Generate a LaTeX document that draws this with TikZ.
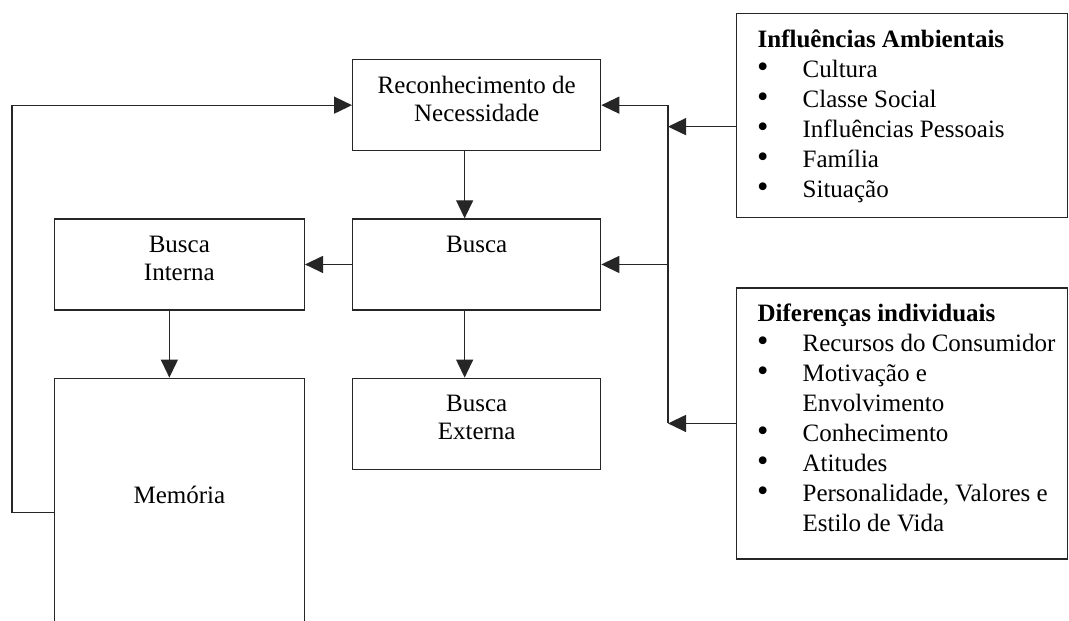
\documentclass[tikz,border=0pt]{standalone}
\usepackage{fontspec}
\setmainfont{Liberation Serif}
\usetikzlibrary{arrows.meta, positioning}
\newcommand{\marca}{\makebox[45pt][l]{\hspace*{-0.5pt}\scalebox{1.3}{\textbullet}}}
\newcommand{\recuo}{\hspace*{45pt}}

\begin{document}
\begin{tikzpicture}[
  x=1pt, y=-1pt,
  line width=1.3pt, draw=black!85,
  caixa/.style={draw, minimum width=248pt, minimum height=91pt, inner sep=0pt},
  topo/.style={label={[anchor=north, yshift=-14pt, inner sep=0pt, align=center, font=\fontsize{25}{28}\selectfont]north:\strut #1}},
  quadro/.style={draw, minimum width=331pt, inner sep=0pt},
  itens/.style={label={[anchor=north west, xshift=21pt, yshift=-13pt, inner sep=0pt, align=left, font=\fontsize{25}{30}\selectfont]north west:\strut #1}},
  seta/.style={-{Triangle[length=18pt, width=17pt]}},
  node distance=67pt,
]
\clip (0,0) rectangle (1069,621);
\coordinate (retorno) at (12,0);
\coordinate (tronco) at (668,0);
\node[caixa, anchor=north west, topo={Reconhecimento de\\Necessidade}] (rec) at (352,59) {};
\node[caixa, below=of rec, topo={Busca}] (busca) {};
\node[caixa, below=of busca, topo={Busca\\Externa}] (externa) {};
\node[caixa, minimum width=250pt, left=47pt of busca, topo={Busca\\Interna}] (interna) {};
\node[caixa, minimum width=250pt, minimum height=260pt, below=of interna,
  label={[anchor=north, yshift=-106pt, inner sep=0pt, font=\fontsize{25}{28}\selectfont]north:\strut Memória}] (memoria) {};
\node[quadro, anchor=north west, minimum height=204pt, itens={\textbf{Influências Ambientais}\\
  \marca Cultura\\ \marca Classe Social\\ \marca Influências Pessoais\\ \marca Família\\ \marca Situação}] (infl) at (736,13) {};
\node[quadro, minimum height=271pt, below=69pt of infl, itens={\textbf{Diferenças individuais}\\
  \marca Recursos do Consumidor\\ \marca Motivação e\\ \recuo Envolvimento\\ \marca Conhecimento\\
  \marca Atitudes\\ \marca Personalidade, Valores e\\ \recuo Estilo de Vida}] (dif) {};
% fluxo central
\draw[seta] ([xshift=-12pt]rec.south) -- ([xshift=-12pt]busca.north);
\draw[seta] ([xshift=-12pt]busca.south) -- ([xshift=-12pt]externa.north);
\draw[seta] (busca.west) -- (interna.east);
\draw[seta] ([xshift=-10pt]interna.south) -- ([xshift=-10pt]memoria.north);
\draw[seta] ([yshift=-135pt]memoria.north west) -| (retorno |- rec.west) -- (rec.west);
% influencias externas
\draw (rec.east -| tronco) -- (dif.west -| tronco);
\draw[seta] (rec.east -| tronco) -- (rec.east);
\draw[seta] (busca.east -| tronco) -- (busca.east);
\draw[seta] ([yshift=-11pt]infl.west) -- ([yshift=-11pt]infl.west -| tronco);
\draw[seta] (dif.west) -- (dif.west -| tronco);
\end{tikzpicture}
\end{document}
